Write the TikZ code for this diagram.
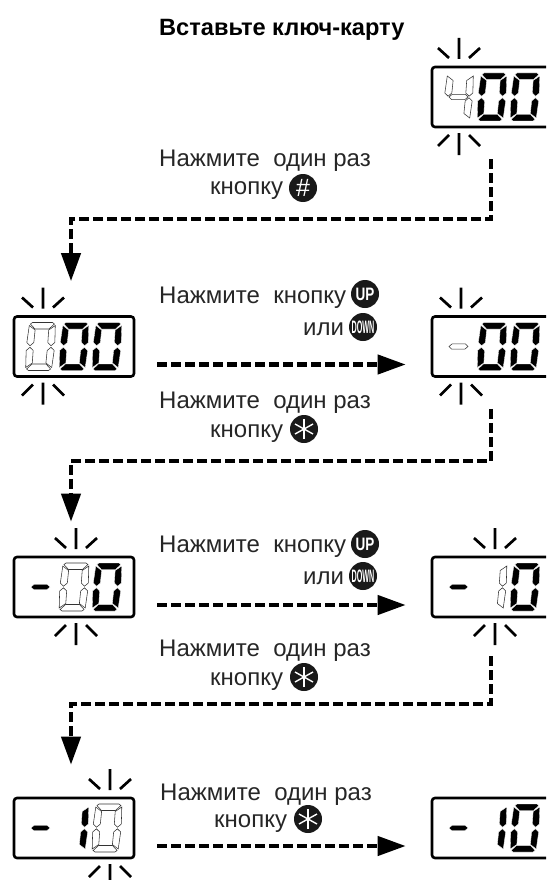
\documentclass[tikz,border=0pt]{standalone}
\usepackage{fontspec}
\setmainfont{Liberation Sans}
\usetikzlibrary{arrows.meta}
% segments of one digit
\newcommand{\sega}{(-10,-24)--(10,-24)--(12,-22.5)--(7,-17.5)--(-7,-17.5)--(-12,-22.5)--cycle}
\newcommand{\segb}{(13,-21)--(14,-4)--(10.5,-0.8)--(7,-4)--(6.8,-16.5)--cycle}
\newcommand{\segc}{(13,21)--(14,4)--(10.5,0.8)--(7,4)--(6.8,16.5)--cycle}
\newcommand{\segd}{(-10,24)--(10,24)--(12,22.5)--(7,17.5)--(-7,17.5)--(-12,22.5)--cycle}
\newcommand{\sege}{(-13,21)--(-14,4)--(-10.5,0.8)--(-7,4)--(-6.8,16.5)--cycle}
\newcommand{\segf}{(-13,-21)--(-14,-4)--(-10.5,-0.8)--(-7,-4)--(-6.8,-16.5)--cycle}
\newcommand{\segg}{(-6.5,-2.7)--(6.5,-2.7)--(9.5,0)--(6.5,2.7)--(-6.5,2.7)--(-9.5,0)--cycle}
% \lcddigit{display}{dx}{lit segments}{dark segments}
\newcommand{\lcddigit}[4]{%
  \begin{scope}[shift={(#1.center)},shift={(#2,0)},xslant=0.085]
    \foreach \s in {#3} \fill[black,draw=white,line width=0.3pt] \csname seg\s\endcsname;
    \foreach \s in {#4} \draw[segoff] \csname seg\s\endcsname;
  \end{scope}}
% \lcdrays{display}{dx}
\newcommand{\lcdrays}[2]{%
  \begin{scope}[shift={(#1.center)},shift={(#2,0)}]
    \draw[rayline] (0,-59)--(0,-38) (-21,-49)--(-10,-39) (21,-49)--(10,-39);
    \draw[rayline] (0,36)--(0,58) (-21,49)--(-10,38) (21,49)--(10,38);
  \end{scope}}
\tikzset{
  lcdbox/.style={draw,line width=2.6pt,rounded corners=3pt,minimum width=120pt,minimum height=60pt,inner sep=0pt},
  segoff/.style={draw=black!80,fill=white,line width=0.55pt},
  rayline/.style={line width=2.7pt},
  flowarrow/.style={->,line width=4.2pt,dash pattern=on 10pt off 4pt},
  hint/.style={anchor=base west,inner sep=0pt,font=\fontsize{24}{28}\selectfont,text=black!85},
  btn/.style={circle,fill=black!90,text=white,minimum size=28pt,inner sep=0pt,font=\fontsize{18}{18}\selectfont\bfseries},
  starbtn/.style={btn,path picture={
    \draw[white,line width=1.4pt] (path picture bounding box.center) ++(0,10)--++(0,-20);
    \draw[white,line width=1.4pt] (path picture bounding box.center) ++(-9,5)--++(18,-10);
    \draw[white,line width=1.4pt] (path picture bounding box.center) ++(-9,-5)--++(18,10);}}
}
\begin{document}
\begin{tikzpicture}[>={Triangle[length=28pt,width=19pt]},x=1pt,y=-1pt]
  \useasboundingbox (0,0) rectangle (546,880);
  \clip (0,0) rectangle (546,880);
  % displays
  \node[lcdbox] (lcdA) at (492,97) {};
  \node[lcdbox] (lcdB) at (74,346.5) {};
  \node[lcdbox] (lcdC) at (492,346.5) {};
  \node[lcdbox] (lcdD) at (74,587) {};
  \node[lcdbox] (lcdE) at (492,587) {};
  \node[lcdbox] (lcdF) at (74,828) {};
  \node[lcdbox] (lcdG) at (492,828) {};
  % digits
  \lcddigit{lcdA}{-33.5}{}{b,c,f,g}
  \lcddigit{lcdB}{-33.5}{}{a,b,c,d,e,f}
  \lcddigit{lcdC}{-33.5}{}{g}
  \lcddigit{lcdD}{-33.5}{g}{}
  \lcddigit{lcdD}{0}{}{a,b,c,d,e,f}
  \lcddigit{lcdE}{-33.5}{g}{}
  \lcddigit{lcdE}{0}{}{b,c}
  \lcddigit{lcdF}{-33.5}{g}{}
  \lcddigit{lcdF}{0}{b,c}{}
  \lcddigit{lcdF}{33}{}{a,b,c,d,e,f}
  \lcddigit{lcdG}{-33.5}{g}{}
  \lcddigit{lcdG}{0}{b,c}{}
  \foreach \d in {lcdA,lcdB,lcdC} {
    \lcddigit{\d}{0}{a,b,c,d,e,f}{}
  }
  \foreach \d in {lcdA,lcdB,lcdC,lcdD,lcdE,lcdG} {
    \lcddigit{\d}{33}{a,b,c,d,e,f}{}
  }
  % blinking marks
  \lcdrays{lcdA}{-33}
  \lcdrays{lcdB}{-31}
  \lcdrays{lcdC}{-31}
  \lcdrays{lcdD}{2}
  \lcdrays{lcdE}{3}
  \lcdrays{lcdF}{36}
  % arrows
  \draw[flowarrow,shorten <=31pt,shorten >=34pt] ([xshift=-1pt]lcdA.south) -- ++(0,91) -| ([xshift=-3pt]lcdB.north);
  \draw[flowarrow,shorten <=31pt,shorten >=34pt] ([xshift=-1pt]lcdC.south) -- ++(0,83) -| ([xshift=-3pt]lcdD.north);
  \draw[flowarrow,shorten <=38pt,shorten >=32pt] ([xshift=-1pt]lcdE.south) -- ++(0,86) -| ([xshift=-3pt]lcdF.north);
  \draw[flowarrow,shorten <=22pt,shorten >=25pt] ([yshift=-18pt]lcdB.east) -- ([yshift=-18pt]lcdC.west);
  \draw[flowarrow,shorten <=22pt,shorten >=25pt] ([yshift=-18pt]lcdD.east) -- ([yshift=-18pt]lcdE.west);
  \draw[flowarrow,shorten <=22pt,shorten >=25pt] ([yshift=-18pt]lcdF.east) -- ([yshift=-18pt]lcdG.west);
  % texts
  \node[hint,font=\fontsize{23.6}{28}\selectfont\bfseries,text=black] (title) at (159,36) {Вставьте ключ-карту};
  \node[hint] (onceA) at (159,166) {Нажмите\ \ один раз};
  \node[hint] (keyA) at (210,194) {кнопку};
  \node[hint] (pickB) at (159,303) {Нажмите\ \ кнопку};
  \node[hint] (orB) at (303,335) {или};
  \node[hint] (onceB) at (159,408) {Нажмите\ \ один раз};
  \node[hint] (keyB) at (210,437) {кнопку};
  \node[hint] (pickD) at (159,552) {Нажмите\ \ кнопку};
  \node[hint] (orD) at (303,584) {или};
  \node[hint] (onceD) at (159,656) {Нажмите\ \ один раз};
  \node[hint] (keyD) at (210,685) {кнопку};
  \node[hint] (onceF) at (160,800) {Нажмите\ \ один раз};
  \node[hint] (keyF) at (214,827) {кнопку};
  % buttons
  \node[btn,font=\fontsize{25}{25}\selectfont] (hashA) at (303,188) {\#};
  \node[btn] (upB) at (365,294) {\scalebox{.75}[1]{UP}};
  \node[btn] (downB) at (363,327) {\scalebox{.4}[1]{DOWN}};
  \node[starbtn] (starB) at (304,429) {};
  \node[btn] (upD) at (365,544) {\scalebox{.75}[1]{UP}};
  \node[btn] (downD) at (363,576) {\scalebox{.4}[1]{DOWN}};
  \node[starbtn] (starD) at (304,677) {};
  \node[starbtn] (starF) at (308,819) {};
\end{tikzpicture}
\end{document}
